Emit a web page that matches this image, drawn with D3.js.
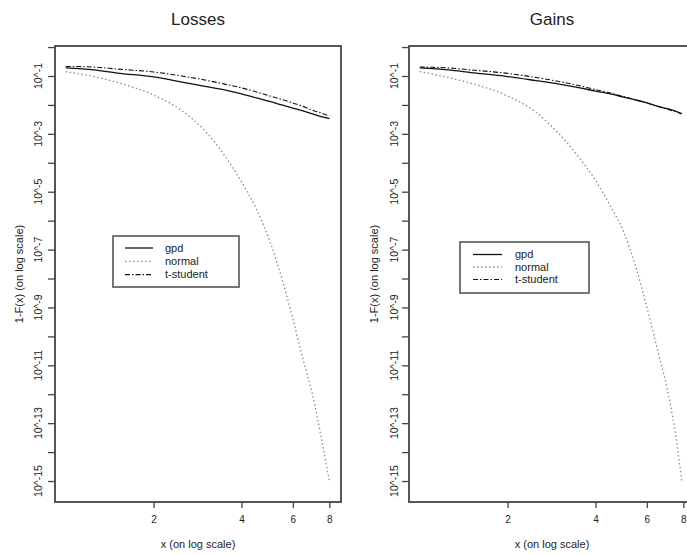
<!DOCTYPE html>
<html><head><meta charset="utf-8">
<script src="https://cdn.jsdelivr.net/npm/d3@7"></script>
<style>
html,body{margin:0;padding:0;background:#fff;}
svg text{font-family:"Liberation Sans",Arial,Helvetica,sans-serif;fill:#222;}
</style></head>
<body>
<svg id="chart" width="687" height="555"></svg>
<script>
// ---- data ----
const panelTitles = ["Losses", "Gains"];
const seriesNames = ["gpd", "normal", "t-student"];
const xTicks = [2, 4, 6, 8];
const yTickExpLabeled = [-1, -3, -5, -7, -9, -11, -13, -15];
const yTickExpMinor = [0, -2, -4, -6, -8, -10, -12, -14];
const yTickLabels = ["10^-1", "10^-3", "10^-5", "10^-7", "10^-9", "10^-11", "10^-13", "10^-15"];

const xLosses = [1, 1.25, 1.5, 2, 2.5, 3, 3.5, 4, 4.5, 5, 5.5, 6, 6.5, 7, 7.5, 8];
const lossesGpd = [0.1905, 0.1622, 0.1259, 0.0933, 0.0617, 0.0437, 0.0331, 0.0240, 0.0174, 0.0132, 0.0100, 0.00776, 0.00617, 0.00490, 0.00398, 0.00339];
const lossesNormal = [1.41e-1, 9.5e-2, 6.0e-2, 2.2e-2, 6.3e-3, 1.26e-3, 1.8e-4, 2.2e-5, 2.5e-6, 2.0e-7, 1.0e-8, 4.0e-10, 1.6e-11, 1.0e-12, 3.2e-14, 1.0e-15];
const lossesT = [0.214, 0.204, 0.174, 0.138, 0.100, 0.0724, 0.0525, 0.0389, 0.0282, 0.0204, 0.0155, 0.0117, 0.00891, 0.00661, 0.00525, 0.00417];

const xGains = [1, 1.25, 1.5, 2, 2.5, 3, 3.5, 4, 4.5, 5, 5.5, 6, 6.5, 7, 7.5, 7.9];
const gainsGpd = [0.1905, 0.1622, 0.1318, 0.0955, 0.0692, 0.0525, 0.0398, 0.0302, 0.0240, 0.0186, 0.0148, 0.0117, 0.00912, 0.00759, 0.00617, 0.00501];
const gainsNormal = [1.41e-1, 8.9e-2, 5.6e-2, 2.04e-2, 5.6e-3, 1.0e-3, 1.6e-4, 2.5e-5, 3.2e-6, 4.0e-7, 2.5e-8, 1.0e-9, 4.0e-11, 2.0e-12, 5.0e-14, 1.0e-15];
const gainsT = [0.204, 0.1905, 0.1622, 0.123, 0.0891, 0.0646, 0.0468, 0.0339, 0.0257, 0.0195, 0.0148, 0.0117, 0.00912, 0.00724, 0.00589, 0.00490];

// ---- layout / styles ----
const svg = d3.select("#chart");
const styles = [
  {stroke: "#111", width: 1.3, dash: null},
  {stroke: "#8a8a8a", width: 1.3, dash: "1.5,2.5"},
  {stroke: "#111", width: 1.1, dash: "5,2,1.5,2"}
];
const panels = [
  {title: panelTitles[0], x: xLosses, series: [lossesGpd, lossesNormal, lossesT],
   left: 55, right: 341, legend: {x: 113, y: 236, w: 126, h: 51, rows: [248, 261.3, 274.6], lx0: 125, lx1: 153, tx: 165},
   tickLabX: 42, titleX: 23},
  {title: panelTitles[1], x: xGains, series: [gainsGpd, gainsNormal, gainsT],
   left: 409, right: 695, legend: {x: 460, y: 242, w: 129, h: 51, rows: [254.5, 267, 279.5], lx0: 473, lx1: 502, tx: 515},
   tickLabX: 398, titleX: 378}
];
const plotTop = 46, plotBottom = 502;

panels.forEach(p => {
  const g = svg.append("g");
  const xs = d3.scaleLog().domain([0.919, 8.77]).range([p.left, p.right]);
  const ys = d3.scaleLog().domain([Math.pow(10, -15.725), Math.pow(10, 0.037)]).range([plotBottom, plotTop]);

  // x axis
  const xAxis = d3.axisBottom(xs).tickValues(xTicks).tickFormat(d3.format("d")).tickSize(6).tickPadding(8);
  const xa = g.append("g").attr("transform", `translate(0,${plotBottom})`).call(xAxis);
  xa.select(".domain").remove();
  xa.selectAll("line").attr("stroke", "#444").attr("stroke-width", 1.3);
  xa.selectAll("text").attr("font-size", 10).attr("fill", "#222").attr("font-family", "Liberation Sans, Arial, sans-serif");

  // y axis ticks (labeled + minor)
  const allExp = yTickExpLabeled.concat(yTickExpMinor);
  const yAxis = d3.axisLeft(ys).tickValues(allExp.map(e => Math.pow(10, e))).tickFormat("").tickSize(7);
  const ya = g.append("g").attr("transform", `translate(${p.left},0)`).call(yAxis);
  ya.select(".domain").remove();
  ya.selectAll("line").attr("stroke", "#444").attr("stroke-width", 1.3);

  yTickExpLabeled.forEach((e, i) => {
    const yy = ys(Math.pow(10, e));
    g.append("text").attr("transform", `translate(${p.tickLabX},${yy}) rotate(-90)`)
      .attr("text-anchor", "middle").attr("font-size", 10.5).text(yTickLabels[i]);
  });

  // curves
  p.series.forEach((vals, si) => {
    const line = d3.line().x((d, i) => xs(p.x[i])).y(d => ys(d)).curve(d3.curveMonotoneX);
    const path = g.append("path").datum(vals).attr("d", line)
      .attr("fill", "none").attr("stroke", styles[si].stroke).attr("stroke-width", styles[si].width);
    if (styles[si].dash) path.attr("stroke-dasharray", styles[si].dash);
  });

  // box
  g.append("rect").attr("x", p.left).attr("y", plotTop).attr("width", p.right - p.left).attr("height", plotBottom - plotTop)
    .attr("fill", "none").attr("stroke", "#444").attr("stroke-width", 1.8);

  // titles
  g.append("text").attr("x", (p.left + p.right) / 2).attr("y", 25).attr("text-anchor", "middle")
    .attr("font-size", 17).text(p.title);
  g.append("text").attr("x", (p.left + p.right) / 2).attr("y", 548).attr("text-anchor", "middle")
    .attr("font-size", 11).text("x (on log scale)");
  g.append("text").attr("transform", `translate(${p.titleX},${(plotTop + plotBottom) / 2}) rotate(-90)`)
    .attr("text-anchor", "middle").attr("font-size", 11).text("1-F(x) (on log scale)");

  // legend
  const L = p.legend;
  g.append("rect").attr("x", L.x).attr("y", L.y).attr("width", L.w).attr("height", L.h)
    .attr("fill", "#fff").attr("stroke", "#555").attr("stroke-width", 1.6);
  seriesNames.forEach((name, si) => {
    const ln = g.append("line").attr("x1", L.lx0).attr("x2", L.lx1).attr("y1", L.rows[si]).attr("y2", L.rows[si])
      .attr("stroke", styles[si].stroke).attr("stroke-width", styles[si].width);
    if (styles[si].dash) ln.attr("stroke-dasharray", styles[si].dash);
    g.append("text").attr("x", L.tx).attr("y", L.rows[si] + 3.8).attr("font-size", 11).text(name);
  });
});
</script>
</body></html>
